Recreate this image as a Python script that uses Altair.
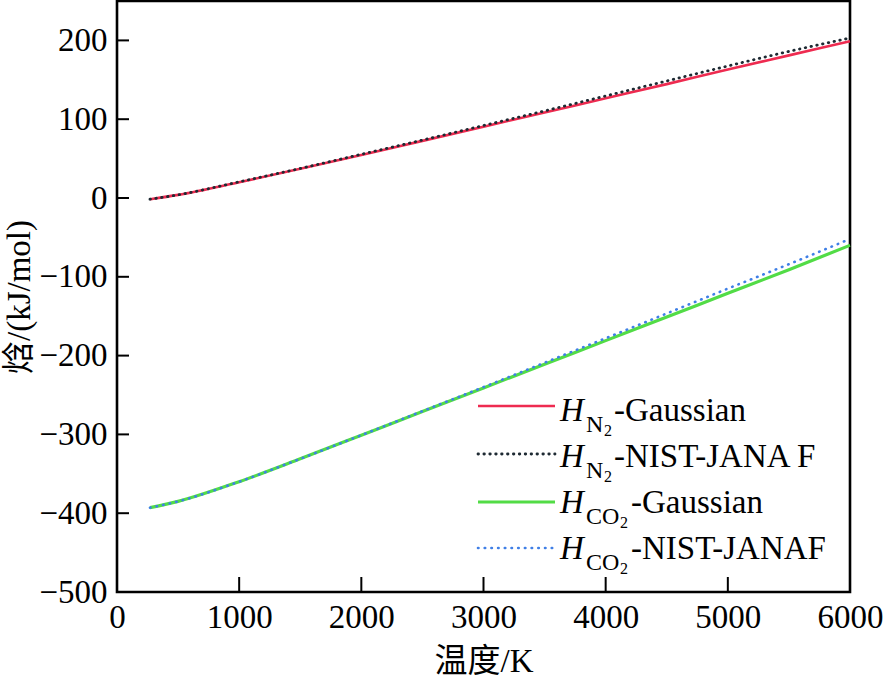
import altair as alt
import pandas as pd

# ---- data ----
T = [270, 500, 1000, 1500, 2000, 2500, 3000, 3500, 4000, 4500, 5000, 5500, 6000]
H_N2_gauss = [-1.5, 4, 20, 37, 54.5, 72.5, 90.5, 108.5, 126.5, 144.5, 163, 181, 199]
H_N2_nist = [-1.5, 4, 20.5, 37.5, 55.5, 73.5, 92, 110.5, 129.5, 148.5, 167.5, 186, 203]
H_CO2_gauss = [-393, -385, -360, -331, -301, -271, -241, -211, -181, -151, -121, -91, -60]
H_CO2_nist = [-393, -385, -360, -331, -301, -270.5, -240, -209, -178, -146.5, -115, -84, -52]

x_ticks = [1000, 2000, 3000, 4000, 5000]
y_ticks = [-400, -300, -200, -100, 0, 100, 200]

series_names = ["N2-Gaussian", "N2-NIST", "CO2-Gaussian", "CO2-NIST"]
rows = []
for name, vals in zip(series_names, [H_N2_gauss, H_N2_nist, H_CO2_gauss, H_CO2_nist]):
    for t, v in zip(T, vals):
        rows.append({"T": t, "H": v, "series": name})
df = pd.DataFrame(rows)
one = pd.DataFrame({"k": [0]})

SERIF = "Liberation Serif, Noto Sans CJK SC"
W, H = 733, 591

xs = alt.Scale(domain=[0, 6000], nice=False, zero=False)
ys = alt.Scale(domain=[-500, 250], nice=False, zero=False)

styles = {
    "N2-Gaussian": dict(color="#ee2b50", strokeWidth=2.6),
    "N2-NIST": dict(color="#1e2a33", strokeWidth=2.8, strokeDash=[0.5, 5.4], strokeCap="round"),
    "CO2-Gaussian": dict(color="#52dc46", strokeWidth=3.2),
    "CO2-NIST": dict(color="#3f7fe6", strokeWidth=2.6, strokeDash=[0.5, 6.2], strokeCap="round"),
}

base = alt.Chart(df)
layers = []
first = True
for name in series_names:
    if first:
        enc = dict(
            x=alt.X("T:Q", scale=xs,
                    axis=alt.Axis(title="温度/K", values=[0, 1000, 2000, 3000, 4000, 5000, 6000],
                                  format="d", tickSize=0, domain=False, grid=False,
                                  labelFlush=False, labelOverlap=False,
                                  labelPadding=9, titlePadding=11)),
            y=alt.Y("H:Q", scale=ys,
                    axis=alt.Axis(title="焓/(kJ/mol)", values=[-500, -400, -300, -200, -100, 0, 100, 200],
                                  format="d", tickSize=0, domain=False, grid=False,
                                  labelFlush=False, labelOverlap=False,
                                  labelPadding=10, titlePadding=2)),
        )
    else:
        enc = dict(x=alt.X("T:Q", scale=xs), y=alt.Y("H:Q", scale=ys))
    layers.append(
        base.transform_filter(alt.datum.series == name)
        .mark_line(interpolate="monotone", **styles[name])
        .encode(**enc)
    )
    first = False

# inward ticks
xt = alt.Chart(pd.DataFrame({"v": x_ticks})).mark_rule(color="black", strokeWidth=2).encode(
    x=alt.X("v:Q", scale=xs), y=alt.value(H), y2=alt.value(H - 15))
yt = alt.Chart(pd.DataFrame({"v": y_ticks})).mark_rule(color="black", strokeWidth=2).encode(
    y=alt.Y("v:Q", scale=ys), x=alt.value(0), x2=alt.value(12))

# manual legend
leg = []
row_line_y = [405, 453, 501, 547]
row_base_y = [420, 466, 512, 558]
subs = ["N", "N", "CO", "CO"]
sub2_x = [487, 487, 503, 503]
suffix = ["-Gaussian", "-NIST-JANA F", "-Gaussian", "-NIST-JANAF"]
suffix_x = [497, 497, 514, 514]
for i, name in enumerate(series_names):
    st = dict(styles[name])
    leg.append(alt.Chart(one).mark_rule(**st).encode(
        x=alt.value(361), x2=alt.value(438), y=alt.value(row_line_y[i])))
    leg.append(alt.Chart(one).mark_text(text="H", font="Liberation Serif", fontStyle="italic",
                                        fontSize=33, align="left", baseline="alphabetic", color="black")
               .encode(x=alt.value(443), y=alt.value(row_base_y[i])))
    leg.append(alt.Chart(one).mark_text(text=subs[i], font="Liberation Serif", fontSize=24,
                                        align="left", baseline="alphabetic", color="black")
               .encode(x=alt.value(469), y=alt.value(row_base_y[i] + 11)))
    leg.append(alt.Chart(one).mark_text(text="2", font="Liberation Serif", fontSize=16,
                                        align="left", baseline="alphabetic", color="black")
               .encode(x=alt.value(sub2_x[i]), y=alt.value(row_base_y[i] + 15)))
    leg.append(alt.Chart(one).mark_text(text=suffix[i], font="Liberation Serif", fontSize=33,
                                        align="left", baseline="alphabetic", color="black")
               .encode(x=alt.value(suffix_x[i]), y=alt.value(row_base_y[i])))

chart = alt.layer(*layers, xt, yt, *leg).properties(
    width=W, height=H,
    autosize=alt.AutoSizeParams(type="none"),
    padding={"left": 117, "top": 1, "right": 34, "bottom": 86},
).configure_view(stroke="black", strokeWidth=2.6).configure_axis(
    labelFont="Liberation Serif", labelFontSize=33, labelColor="black",
    titleFont=SERIF, titleFontSize=33, titleColor="black", titleFontWeight="normal",
)

chart.save("out.html", embed_options={"renderer": "svg", "actions": False})
